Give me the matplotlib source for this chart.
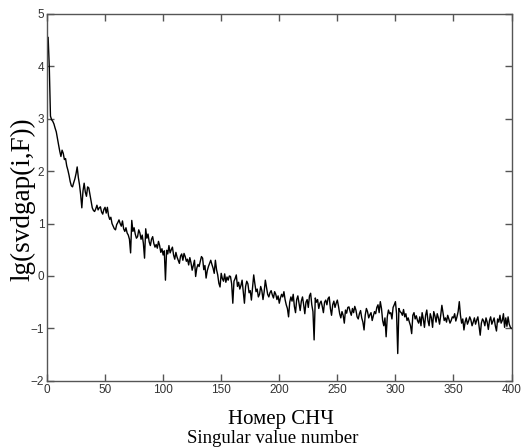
import numpy as np
import matplotlib
matplotlib.use("Agg")
import matplotlib.pyplot as plt

# singular value number 1..400
sv_num = np.arange(1, 401)

# lg(svdgap(i,F)), 20 values per row
lg_gap = [
    4.55, 3.98, 3.05, 2.98, 2.95, 2.90, 2.82, 2.75, 2.62, 2.50, 2.38, 2.28, 2.40, 2.34, 2.22, 2.24, 2.10, 2.02, 1.92, 1.80,
    1.72, 1.70, 1.78, 1.85, 1.95, 2.08, 1.88, 1.74, 1.55, 1.30, 1.62, 1.77, 1.60, 1.52, 1.70, 1.68, 1.55, 1.42, 1.30, 1.25,
    1.23, 1.28, 1.35, 1.26, 1.30, 1.32, 1.22, 1.18, 1.27, 1.31, 1.20, 1.31, 1.15, 1.08, 1.12, 1.00, 0.95, 0.90, 0.88, 0.98,
    1.02, 1.07, 1.00, 0.95, 1.05, 0.90, 0.85, 0.92, 0.82, 0.78, 0.70, 0.44, 1.06, 0.85, 0.92, 0.80, 0.72, 0.75, 0.88, 0.82,
    0.70, 0.78, 0.62, 0.34, 0.90, 0.72, 0.80, 0.65, 0.58, 0.70, 0.75, 0.62, 0.55, 0.60, 0.53, 0.66, 0.58, 0.45, 0.52, 0.40,
    0.48, -0.08, 0.49, 0.42, 0.58, 0.44, 0.50, 0.55, 0.40, 0.32, 0.45, 0.36, 0.30, 0.24, 0.38, 0.42, 0.30, 0.43, 0.37, 0.28,
    0.32, 0.21, 0.35, 0.25, 0.11, 0.20, 0.30, -0.01, 0.15, 0.22, 0.18, 0.28, 0.37, 0.34, 0.12, 0.20, -0.04, 0.10, 0.18, 0.24,
    0.30, 0.22, 0.15, 0.05, 0.30, 0.12, 0.02, -0.14, -0.21, 0.05, -0.05, -0.10, 0.04, -0.12, -0.02, -0.08, 0.00, -0.01, -0.15, -0.52,
    -0.10, -0.05, 0.02, -0.20, -0.12, -0.25, -0.18, -0.08, -0.30, -0.52, -0.20, -0.10, -0.15, -0.32, -0.28, -0.46, -0.22, 0.02, -0.15, -0.30,
    -0.25, -0.40, -0.35, -0.20, -0.28, -0.45, -0.30, -0.08, -0.22, -0.35, -0.40, -0.32, -0.28, -0.36, -0.42, -0.30, -0.35, -0.45, -0.38, -0.52,
    -0.42, -0.35, -0.40, -0.30, -0.45, -0.55, -0.62, -0.78, -0.50, -0.40, -0.48, -0.35, -0.58, -0.70, -0.45, -0.38, -0.52, -0.66, -0.48, -0.40,
    -0.55, -0.72, -0.50, -0.45, -0.60, -0.38, -0.33, -0.55, -0.68, -1.22, -0.42, -0.50, -0.45, -0.62, -0.52, -0.48, -0.58, -0.70, -0.50, -0.46,
    -0.55, -0.43, -0.40, -0.62, -0.75, -0.55, -0.48, -0.60, -0.52, -0.46, -0.58, -0.72, -0.80, -0.68, -0.75, -0.90, -0.65, -0.71, -0.60, -0.59,
    -0.68, -0.75, -0.62, -0.70, -0.58, -0.65, -0.78, -0.82, -0.72, -0.66, -0.80, -0.88, -1.03, -0.75, -0.62, -0.68, -0.80, -0.74, -0.70, -0.85,
    -0.76, -0.68, -0.72, -0.60, -0.55, -0.70, -0.49, -0.62, -0.85, -0.95, -0.80, -1.16, -0.78, -0.65, -0.72, -0.70, -0.82, -0.60, -0.55, -0.49,
    -0.72, -1.48, -0.62, -0.68, -0.70, -0.75, -0.64, -0.78, -0.72, -0.85, -0.80, -0.88, -0.95, -1.10, -0.75, -0.70, -0.82, -0.76, -0.85, -0.90,
    -0.78, -0.95, -0.70, -0.82, -0.98, -0.75, -0.65, -0.85, -0.95, -0.72, -0.80, -0.98, -0.68, -0.76, -0.88, -0.72, -0.80, -0.92, -0.75, -0.56,
    -0.70, -0.85, -0.80, -0.88, -0.75, -0.82, -0.90, -0.85, -0.78, -0.80, -0.72, -0.86, -0.78, -0.68, -0.49, -0.75, -0.90, -0.82, -1.03, -0.88,
    -0.80, -0.92, -0.86, -0.78, -0.84, -0.95, -0.88, -0.80, -0.92, -0.84, -0.78, -0.95, -1.13, -0.90, -0.82, -0.86, -0.95, -0.80, -0.88, -1.02,
    -0.85, -0.78, -0.92, -0.86, -0.80, -0.95, -1.05, -0.82, -0.88, -0.75, -0.90, -0.85, -0.72, -0.98, -0.80, -0.96, -0.78, -0.92, -0.98, -1.00,
]

x_ticks = [0, 50, 100, 150, 200, 250, 300, 350, 400]
y_ticks = [-2, -1, 0, 1, 2, 3, 4, 5]

xlabel_ru = 'Номер СНЧ'
xlabel_en = 'Singular value number'
ylabel = 'lg(svdgap(i,F))'

axis_col = '#555555'

fig = plt.figure(figsize=(5.22, 4.48), dpi=100)
ax = fig.add_axes([0.090, 0.150, 0.890, 0.819])

ax.plot(sv_num, lg_gap, color='black', linewidth=1.0)

ax.set_xlim(0, 400)
ax.set_ylim(-2, 5)
ax.set_xticks(x_ticks)
ax.set_yticks(y_ticks)

for sp in ax.spines.values():
    sp.set_color(axis_col)
    sp.set_linewidth(1.0)

ax.tick_params(direction='in', length=5, width=1, colors=axis_col,
               top=True, right=True, labelsize=8.5, pad=2)
for lab in ax.get_xticklabels() + ax.get_yticklabels():
    lab.set_family('Liberation Sans')
    lab.set_color('#333333')

# y label is large in the original
fig.text(23 / 522, 0.555, ylabel, family='Liberation Serif', fontsize=19.5,
         rotation=90, ha='center', va='center')

# two-line x label, russian over english
fig.text(281 / 522, 24 / 448, xlabel_ru, family='Liberation Serif',
         fontsize=15, ha='center', va='baseline')
fig.text(273 / 522, 5.5 / 448, xlabel_en, family='Liberation Serif',
         fontsize=13.5, ha='center', va='baseline')

fig.savefig('out.png', dpi=100)
